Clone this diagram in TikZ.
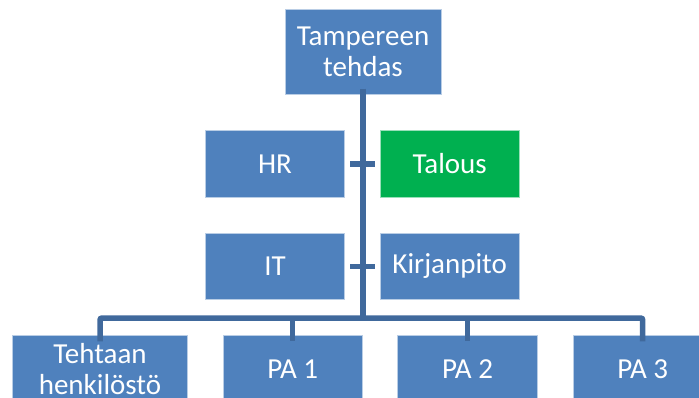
\documentclass[tikz,border=0pt]{standalone}
\usepackage{fontspec}
\setmainfont{Carlito}
\usetikzlibrary{calc}
\definecolor{boxblue}{HTML}{4F81BD}
\definecolor{boxgreen}{HTML}{00B050}
\definecolor{linkblue}{HTML}{40699C}
\tikzset{
  unit/.style={draw=white!60!boxblue, line width=0.7pt, fill=boxblue, text=white,
    minimum width=139.4pt, minimum height=66.6pt, inner sep=0pt, align=center,
    font=\fontsize{29}{31}\selectfont},
  greenunit/.style={unit, fill=boxgreen, draw=white!60!boxgreen},
  conn/.style={draw=linkblue, line width=5.5pt},
}
\begin{document}
\begin{tikzpicture}[x=1pt, y=-1pt]
  \useasboundingbox (0,0) rectangle (699,398);
  \clip (0,0) rectangle (699,398);

  % top unit
  \node[unit, minimum width=156pt, minimum height=85pt] (top) at (363,51.7) {Tampereen\\tehdas};

  % staff units beside the trunk
  \node[unit] (hr)   at (275,164)   {HR};
  \node[greenunit] (tal) at (449.7,164) {Talous};
  \node[unit] (it)   at (275,266.3) {IT};
  \node[unit] (kir)  at (449.7,266.3) {Kirjanpito};

  % lower row
  \node[unit, minimum width=174.6pt] (teh) at (100,369) {Tehtaan\\henkilöstö};
  \node[unit] (pa1) at (292.7,369) {PA 1};
  \node[unit] (pa2) at (467.5,369) {PA 2};
  \node[unit] (pa3) at (642.7,369) {PA 3};

  \coordinate (bar) at (363,318);

  % trunk
  \draw[conn] ([yshift=6pt]top.south) -- (top.south |- bar);

  % staff ticks
  \draw[conn] ([xshift=5pt]hr.east) -- ([xshift=-5pt]tal.west);
  \draw[conn] ([xshift=5pt]it.east) -- ([xshift=-5pt]kir.west);

  % distribution bar with drops
  \draw[conn, rounded corners=2pt] ([yshift=-6pt]teh.north) |- (bar) -| ([yshift=-6pt]pa3.north);
  \draw[conn] (pa1.north |- bar) -- ([yshift=-6pt]pa1.north);
  \draw[conn] (pa2.north |- bar) -- ([yshift=-6pt]pa2.north);
\end{tikzpicture}
\end{document}
